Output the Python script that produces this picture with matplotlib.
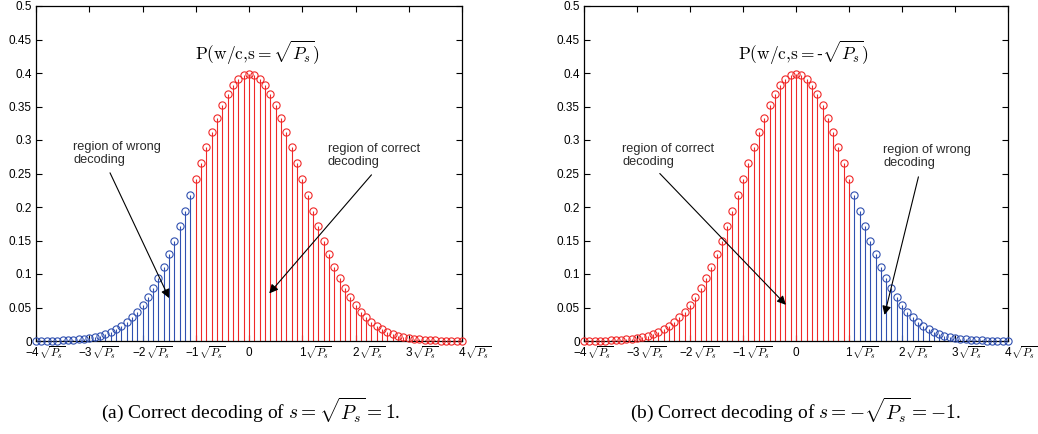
import numpy as np
import matplotlib
matplotlib.use("Agg")
from matplotlib import pyplot as plt
from matplotlib.transforms import offset_copy

plt.rcParams['mathtext.fontset'] = 'cm'
plt.rcParams['font.family'] = ['Liberation Sans', 'DejaVu Sans']

# sample points (multiples of sqrt(Ps)) and stem heights
x_pts = np.round(np.arange(-40, 41) / 10.0, 1)
density = [0.0001, 0.0002, 0.0003, 0.0004, 0.0006, 0.0009, 0.0012, 0.0017, 0.0024, 0.0033,
           0.0044, 0.0060, 0.0079, 0.0104, 0.0136, 0.0175, 0.0224, 0.0283, 0.0355, 0.0440,
           0.0540, 0.0656, 0.0790, 0.0940, 0.1109, 0.1295, 0.1497, 0.1714, 0.1942, 0.2179,
           0.2420, 0.2661, 0.2897, 0.3123, 0.3332, 0.3521, 0.3683, 0.3814, 0.3910, 0.3970,
           0.3989,
           0.3970, 0.3910, 0.3814, 0.3683, 0.3521, 0.3332, 0.3123, 0.2897, 0.2661, 0.2420,
           0.2179, 0.1942, 0.1714, 0.1497, 0.1295, 0.1109, 0.0940, 0.0790, 0.0656, 0.0540,
           0.0440, 0.0355, 0.0283, 0.0224, 0.0175, 0.0136, 0.0104, 0.0079, 0.0060, 0.0044,
           0.0033, 0.0024, 0.0017, 0.0012, 0.0009, 0.0006, 0.0004, 0.0003, 0.0002, 0.0001]
density = np.array(density)

# last "wrong" sample on the left plot / first "wrong" sample on the right plot
wrong_a_max = -1.1
wrong_b_min = 1.1

x_ticks = [-4, -3, -2, -1, 0, 1, 2, 3, 4]
y_ticks = [0, 0.05, 0.1, 0.15, 0.2, 0.25, 0.3, 0.35, 0.4, 0.45, 0.5]

titles = [r'$\mathrm{P(w/c{,}s{=}}\sqrt{P_s}\mathrm{)}$',
          r'$\mathrm{P(w/c{,}s{=}}$-$\sqrt{P_s}\mathrm{)}$']
captions = [r'(a) Correct decoding of $s=\sqrt{P_s}=1$.',
            r'(b) Correct decoding of $s=-\sqrt{P_s}=-1$.']

RED = '#f02828'
BLUE = '#3050b0'


def stems(ax, mask, color):
    ax.vlines(x_pts[mask], 0, density[mask], color=color, lw=0.8, clip_on=False, zorder=2)
    ax.plot(x_pts[mask], density[mask], 'o', mfc='none', mec=color, ms=5.2, mew=0.8,
            clip_on=False, zorder=3)


def setup(ax):
    ax.set_xlim(-4, 4)
    ax.set_ylim(0, 0.5)
    ax.set_yticks(y_ticks)
    ax.set_yticklabels(['%g' % v for v in y_ticks])
    ax.set_xticks(x_ticks)
    ax.set_xticklabels([])
    ax.tick_params(direction='in', top=True, right=True, length=4, width=0.8,
                   labelsize=8.5, pad=3)
    for s in ax.spines.values():
        s.set_linewidth(0.9)
    base = ax.get_xaxis_transform()
    for t in x_ticks:
        if t == 0:
            ax.text(t, 0, '0', ha='center', va='top', fontsize=8.5,
                    transform=offset_copy(base, fig=fig, x=0, y=-6, units='dots'))
            continue
        num = ('\u2212%d' % abs(t)) if t < 0 else '%d' % t
        ax.text(t, 0, num, ha='right', va='top', fontsize=8.5,
                transform=offset_copy(base, fig=fig, x=3.0, y=-6, units='dots'))
        ax.text(t, 0, r'$\sqrt{P_s}$', ha='left', va='top', fontsize=8,
                transform=offset_copy(base, fig=fig, x=3.2, y=-3.5, units='dots'))


def note(ax, label, text_xy, tail, head):
    ax.text(text_xy[0], text_xy[1], label, ha='left', va='top', fontsize=9.2,
            color='#2a2a2a', linespacing=1.1)
    ax.annotate('', xy=head, xytext=tail,
                arrowprops=dict(arrowstyle='-|>', color='k', lw=0.8,
                                mutation_scale=13, shrinkA=0, shrinkB=0))


fig = plt.figure(figsize=(10.38, 4.34), dpi=100)
ax1 = fig.add_axes([36 / 1038, 93 / 434, 426 / 1038, 335 / 434])
ax2 = fig.add_axes([584 / 1038, 93 / 434, 424 / 1038, 335 / 434])

# (a) s = sqrt(Ps)
wrong = x_pts <= wrong_a_max
stems(ax1, wrong, BLUE)
stems(ax1, ~wrong, RED)
setup(ax1)
ax1.text(0.15, 0.43, titles[0], ha='center', va='center', fontsize=12.5)
note(ax1, 'region of wrong\ndecoding', (-3.3, 0.299), (-2.61, 0.251), (-1.50, 0.064))
note(ax1, 'region of correct\ndecoding', (1.48, 0.296), (2.30, 0.248), (0.38, 0.071))

# (b) s = -sqrt(Ps)
wrong = x_pts >= wrong_b_min
stems(ax2, ~wrong, RED)
stems(ax2, wrong, BLUE)
setup(ax2)
ax2.text(0.13, 0.43, titles[1], ha='center', va='center', fontsize=12.5)
note(ax2, 'region of correct\ndecoding', (-3.28, 0.296), (-2.57, 0.250), (-0.19, 0.054))
note(ax2, 'region of wrong\ndecoding', (1.65, 0.294), (2.31, 0.245), (1.67, 0.039))

fig.text(251 / 1038, 1 - 410 / 434, captions[0], ha='center', va='center',
         fontsize=14, family='Liberation Serif')
fig.text(795 / 1038, 1 - 410 / 434, captions[1], ha='center', va='center',
         fontsize=14, family='Liberation Serif')

fig.savefig('out.png', dpi=100)
